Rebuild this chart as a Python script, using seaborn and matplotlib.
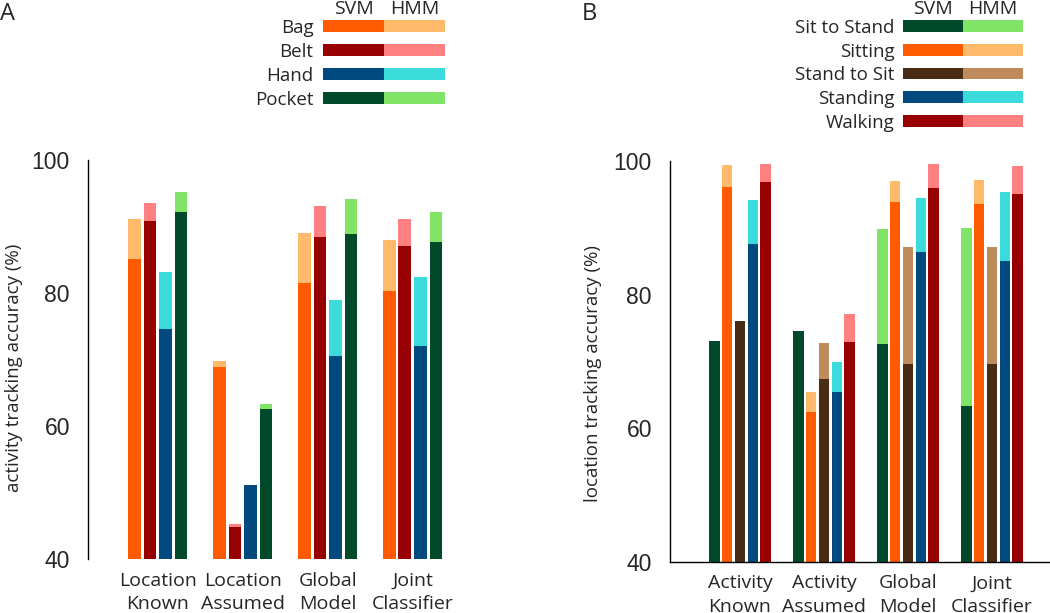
import pandas as pd
import matplotlib.pyplot as plt
import seaborn as sns

# Panel A: activity tracking accuracy by phone location
groups_a = ["Location\nKnown", "Location\nAssumed", "Global\nModel", "Joint\nClassifier"]
locations = ["Bag", "Belt", "Hand", "Pocket"]
svm_a = {
    "Bag": [85.1, 68.8, 81.5, 80.3],
    "Belt": [90.8, 44.8, 88.4, 87.1],
    "Hand": [74.6, 51.1, 70.5, 72.0],
    "Pocket": [92.2, 62.5, 88.8, 87.6],
}
hmm_a = {
    "Bag": [91.2, 69.7, 89.0, 88.0],
    "Belt": [93.6, 45.2, 93.1, 91.2],
    "Hand": [83.1, 51.1, 78.9, 82.4],
    "Pocket": [95.2, 63.3, 94.2, 92.2],
}
svm_col_a = {"Bag": "#ff5a00", "Belt": "#970000", "Hand": "#004a7f", "Pocket": "#004a2b"}
hmm_col_a = {"Bag": "#ffbb6b", "Belt": "#ff8080", "Hand": "#3bdbdb", "Pocket": "#80e566"}

# Panel B: location tracking accuracy by activity
groups_b = ["Activity\nKnown", "Activity\nAssumed", "Global\nModel", "Joint\nClassifier"]
activities = ["Sit to Stand", "Sitting", "Stand to Sit", "Standing", "Walking"]
svm_b = {
    "Sit to Stand": [73.0, 74.6, 72.6, 63.3],
    "Sitting": [96.1, 62.5, 93.8, 93.6],
    "Stand to Sit": [76.1, 67.4, 69.7, 69.7],
    "Standing": [87.6, 65.5, 86.4, 85.0],
    "Walking": [96.9, 72.9, 95.9, 95.0],
}
hmm_b = {
    "Sit to Stand": [73.0, 74.6, 89.9, 90.0],
    "Sitting": [99.4, 65.5, 97.0, 97.2],
    "Stand to Sit": [76.1, 72.7, 87.2, 87.2],
    "Standing": [94.2, 69.9, 94.4, 95.4],
    "Walking": [99.6, 77.1, 99.6, 99.2],
}
svm_col_b = {"Sit to Stand": "#004a2b", "Sitting": "#ff5a00", "Stand to Sit": "#4a2b14",
             "Standing": "#004a7f", "Walking": "#970000"}
hmm_col_b = {"Sit to Stand": "#80e566", "Sitting": "#ffbb6b", "Stand to Sit": "#bd8b5c",
             "Standing": "#3bdbdb", "Walking": "#ff8080"}

sns.set_style("white")
plt.rcParams["font.family"] = ["Open Sans", "DejaVu Sans"]

W, H = 1050, 613
fig = plt.figure(figsize=(W / 100, H / 100), dpi=100)


def px_axes(x0, y0, x1, y1):
    # pixel box (top-left origin) -> figure axes
    return fig.add_axes([x0 / W, 1 - y1 / H, (x1 - x0) / W, (y1 - y0) / H])


def long_df(groups, keys, values):
    rows = []
    for k in keys:
        for g, v in zip(groups, values[k]):
            rows.append({"group": g, "cls": k, "value": v})
    return pd.DataFrame(rows)


def draw_panel(ax, groups, keys, svm, hmm, svm_col, hmm_col, width, gap, ylabel):
    for vals, pal in [(hmm, hmm_col), (svm, svm_col)]:
        sns.barplot(data=long_df(groups, keys, vals), x="group", y="value", hue="cls",
                    order=groups, hue_order=keys, palette=pal, width=width, gap=gap,
                    saturation=1, errorbar=None, legend=False, linewidth=0, ax=ax)
    ax.set_ylim(40, 100)
    ax.set_yticks([40, 60, 80, 100])
    ax.tick_params(axis="y", direction="in", length=9.5, width=1, labelsize=16.5, pad=13)
    for t in ax.get_yticklabels():
        t.set_family("Liberation Sans")
    ax.tick_params(axis="x", length=0, labelsize=14, pad=9)
    for t in ax.get_xticklabels():
        t.set_linespacing(1.4)
    ax.set_xlabel("")
    ax.set_ylabel(ylabel, fontsize=13.5)
    for s in ["top", "right"]:
        ax.spines[s].set_visible(False)
    for s in ax.spines.values():
        s.set_color("black")
        s.set_linewidth(1)


def draw_legend(ax, keys, svm_col, hmm_col, pad):
    for i, k in enumerate(keys):
        ax.barh(i, 1, left=0, height=0.5, color=svm_col[k], linewidth=0)
        ax.barh(i, 1, left=1, height=0.5, color=hmm_col[k], linewidth=0)
    ax.set_xlim(0, 2)
    ax.set_ylim(len(keys) - 0.5, -0.5)
    ax.set_yticks(range(len(keys)))
    ax.set_yticklabels(keys)
    ax.tick_params(axis="y", length=0, labelsize=13.5, pad=pad)
    ax.set_xticks([])
    for s in ax.spines.values():
        s.set_visible(False)
    ax.text(0.5, -0.72, "SVM", ha="center", va="center", fontsize=14, clip_on=False)
    ax.text(1.5, -0.72, "HMM", ha="center", va="center", fontsize=14, clip_on=False)


# panel A
ax_a = px_axes(88, 160, 455, 559)
draw_panel(ax_a, groups_a, locations, svm_a, hmm_a, svm_col_a, hmm_col_a,
           0.73, 0.19, "activity tracking accuracy (%)")
ax_a.set_xlim(-0.82, 3.5)
ax_a.spines["bottom"].set_visible(False)
ax_a.yaxis.set_label_coords(-0.177, 0.48)

# panel B
ax_b = px_axes(670, 161, 1050, 562)
draw_panel(ax_b, groups_b, activities, svm_b, hmm_b, svm_col_b, hmm_col_b,
           0.76, 0.18, "location tracking accuracy (%)")
ax_b.set_xlim(-0.833, 3.69)
ax_b.yaxis.set_label_coords(-0.179, 0.47)

# legends
lg_a = px_axes(323, 14, 445, 110)
draw_legend(lg_a, locations, svm_col_a, hmm_col_a, 7)
lg_b = px_axes(903, 14, 1023, 133)
draw_legend(lg_b, activities, svm_col_b, hmm_col_b, 6)

fig.text(0 / W, 1 - 14 / H, "A", fontsize=17, ha="left", va="center")
fig.text(582 / W, 1 - 14 / H, "B", fontsize=17, ha="left", va="center")

fig.savefig("out.png", dpi=100)
